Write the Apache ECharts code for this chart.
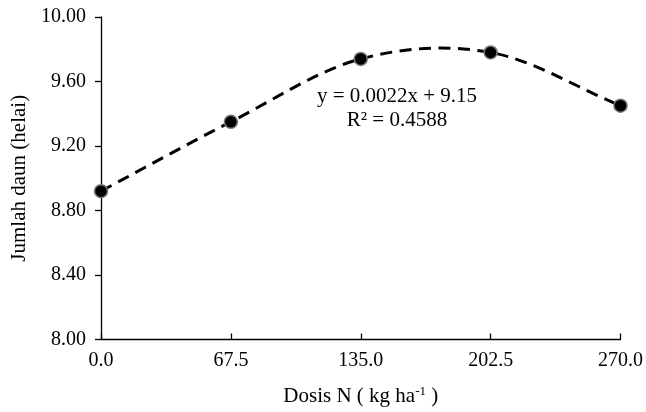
<!DOCTYPE html>
<html>
<head>
<meta charset="utf-8">
<script src="https://cdn.jsdelivr.net/npm/echarts@6/dist/echarts.min.js"></script>
<style>
html,body{margin:0;padding:0;background:#fff;}
#chart{width:646px;height:412px;}
</style>
</head>
<body>
<div id="chart"></div>
<script>
var doses = [0, 67.5, 135, 202.5, 270];
var leaves = [8.92, 9.35, 9.74, 9.78, 9.45];
var xTicks = [0, 67.5, 135, 202.5, 270];
var yTicks = [8.00, 8.40, 8.80, 9.20, 9.60, 10.00];
var eqText = 'y = 0.0022x + 9.15';
var r2Text = 'R² = 0.4588';

var FONT = '"Liberation Serif", "Times New Roman", serif';
var chart = echarts.init(document.getElementById('chart'), null, {renderer: 'canvas'});
var pts = doses.map(function (d, i) { return [d, leaves[i]]; });

function renderCurve(params, api) {
  if (params.dataIndex !== 0) return null;
  var P = pts.map(function (p) { return api.coord(p); });
  var n = P.length;
  var T = P.map(function (p, i) {
    var a = P[Math.max(i - 1, 0)], b = P[Math.min(i + 1, n - 1)];
    var f = (i === 0 || i === n - 1) ? 1 : 0.5;
    return [(b[0] - a[0]) * f, (b[1] - a[1]) * f];
  });
  var d = 'M' + P[0][0] + ' ' + P[0][1];
  for (var i = 0; i < n - 1; i++) {
    var c1 = [P[i][0] + T[i][0] / 3, P[i][1] + T[i][1] / 3];
    var c2 = [P[i + 1][0] - T[i + 1][0] / 3, P[i + 1][1] - T[i + 1][1] / 3];
    d += ' C' + c1[0] + ' ' + c1[1] + ' ' + c2[0] + ' ' + c2[1] + ' ' + P[i + 1][0] + ' ' + P[i + 1][1];
  }
  return {
    type: 'path',
    shape: {pathData: d},
    style: {fill: null, stroke: '#000', lineWidth: 3, lineDash: [12, 7.5]}
  };
}

chart.setOption({
  animation: false,
  backgroundColor: '#fff',
  grid: {left: 101, right: 24, top: 17, bottom: 71, containLabel: false},
  xAxis: {
    type: 'value', min: 0, max: 270, interval: 67.5,
    axisLine: {lineStyle: {color: '#000', width: 1.3}},
    axisTick: {inside: true, length: 6, lineStyle: {color: '#000', width: 1.3}},
    splitLine: {show: false},
    axisLabel: {color: '#000', fontFamily: FONT, fontSize: 20, margin: 11,
      formatter: function (v) { return v.toFixed(1); }},
    name: 'Dosis N ( kg ha{sup|-1} )',
    nameLocation: 'middle', nameGap: 46,
    nameTextStyle: {color: '#000', fontFamily: FONT, fontSize: 21,
      rich: {sup: {fontFamily: FONT, fontSize: 13, verticalAlign: 'top', padding: [0, 0, 9, 0], color: '#000'}}}
  },
  yAxis: {
    type: 'value', min: 8.0, max: 10.0, interval: 0.4,
    axisLine: {show: true, lineStyle: {color: '#000', width: 1.3}},
    axisTick: {show: true, length: 6, lineStyle: {color: '#000', width: 1.3}},
    splitLine: {show: false},
    axisLabel: {color: '#000', fontFamily: FONT, fontSize: 20, margin: 15,
      formatter: function (v) { return v.toFixed(2); }},
    name: 'Jumlah daun (helai)',
    nameLocation: 'middle', nameGap: 71, nameRotate: 90,
    nameTextStyle: {color: '#000', fontFamily: FONT, fontSize: 21}
  },
  graphic: [
    {type: 'text', x: 397, y: 96, style: {text: eqText, font: '21px ' + FONT, fill: '#000', align: 'center', verticalAlign: 'middle'}},
    {type: 'text', x: 397, y: 120, style: {text: r2Text, font: '21px ' + FONT, fill: '#000', align: 'center', verticalAlign: 'middle'}}
  ],
  series: [{
    type: 'custom',
    data: pts,
    renderItem: renderCurve,
    clip: false,
    z: 2
  }, {
    type: 'scatter',
    data: pts,
    symbol: 'circle',
    symbolSize: 13,
    itemStyle: {color: '#000', borderColor: '#777', borderWidth: 1.5, opacity: 1},
    z: 3
  }]
});
</script>
</body>
</html>
